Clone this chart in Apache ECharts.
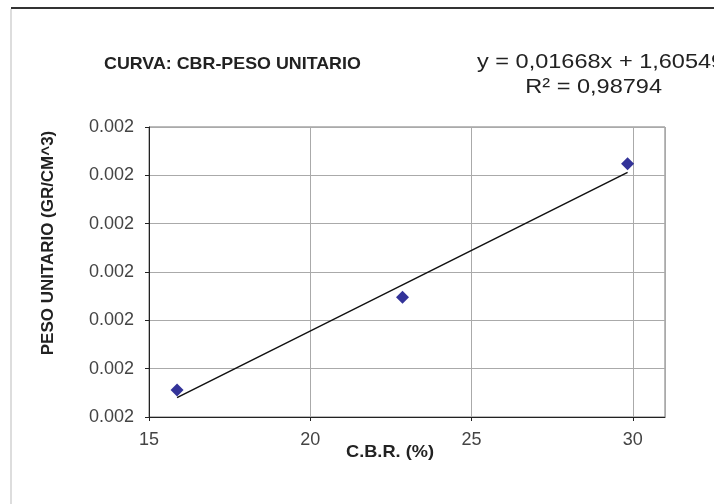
<!DOCTYPE html>
<html>
<head>
<meta charset="utf-8">
<script src="https://cdn.jsdelivr.net/npm/echarts@6/dist/echarts.min.js"></script>
<style>
html, body { margin: 0; padding: 0; background: #fff; }
#main { width: 714px; height: 504px; }
</style>
</head>
<body>
<div id="main"></div>
<script>
// ensayo CBR vs peso unitario
var cbr = [15.87, 22.86, 29.84];
var pesoUnitario = [1.878, 1.974, 2.112];
var trendX = [15.87, 29.84];
var trendY = [1.870, 2.103];
var yTickLabel = '0.002';
var titleText = 'CURVA: CBR-PESO UNITARIO';
var xName = 'C.B.R. (%)';
var yName = 'PESO UNITARIO (GR/CM^3)';
var eqText = 'y = 0,01668x + 1,60549';
var r2Text = 'R\u00b2 = 0,98794';

var chart = echarts.init(document.getElementById('main'));

var points = cbr.map(function (x, i) { return [x, pesoUnitario[i]]; });
var trend = trendX.map(function (x, i) { return [x, trendY[i]]; });

var font = 'Liberation Sans, Arial, sans-serif';

var option = {
    animation: false,
    backgroundColor: '#fff',
    grid: {
        left: 149,
        top: 127,
        right: 49,
        bottom: 87,
        show: true,
        borderColor: '#777',
        borderWidth: 1
    },
    graphic: [
        { type: 'line', shape: { x1: 11, y1: 8, x2: 714, y2: 8 }, style: { stroke: '#333', lineWidth: 2 } },
        { type: 'line', shape: { x1: 11, y1: 9, x2: 11, y2: 504 }, style: { stroke: '#ddd', lineWidth: 2 } },
        {
            type: 'text', x: 104, y: 64, scaleX: 1.05,
            style: { x: 0, y: 0, text: titleText, font: 'bold 17px ' + font, fill: '#222',
                     textAlign: 'left', textVerticalAlign: 'middle' }
        },
        {
            type: 'text', x: 477, y: 62, scaleX: 1.12,
            style: { x: 0, y: 0, text: eqText, font: '21px ' + font, fill: '#222',
                     textAlign: 'left', textVerticalAlign: 'middle' }
        },
        {
            type: 'text', x: 662, y: 87, scaleX: 1.12,
            style: { x: 0, y: 0, text: r2Text, font: '21px ' + font, fill: '#222',
                     textAlign: 'right', textVerticalAlign: 'middle' }
        },
        {
            type: 'text', x: 390, y: 452, scaleX: 1.07,
            style: { x: 0, y: 0, text: xName, font: 'bold 17px ' + font, fill: '#222',
                     textAlign: 'center', textVerticalAlign: 'middle' }
        },
        {
            type: 'text', x: 49, y: 243, rotation: Math.PI / 2, scaleX: 1.06,
            style: { x: 0, y: 0, text: yName, font: 'bold 16px ' + font, fill: '#222',
                     textAlign: 'center', textVerticalAlign: 'middle' }
        }
    ],
    xAxis: {
        type: 'value',
        min: 15,
        max: 31,
        interval: 5,
        axisLine: { show: true, lineStyle: { color: '#222', width: 1 } },
        axisTick: { show: true, length: 4, lineStyle: { color: '#222' } },
        axisLabel: {
            fontFamily: font, fontSize: 18, color: '#444', margin: 14,
            showMaxLabel: false
        },
        splitLine: { show: true, lineStyle: { color: '#aaa', width: 1 } }
    },
    yAxis: {
        type: 'value',
        min: 1.85,
        max: 2.15,
        interval: 0.05,
        axisLine: { show: true, lineStyle: { color: '#222', width: 1 } },
        axisTick: { show: true, length: 4, lineStyle: { color: '#222' } },
        axisLabel: {
            fontFamily: font, fontSize: 18, color: '#444', margin: 15,
            formatter: function () { return yTickLabel; }
        },
        splitLine: { show: true, lineStyle: { color: '#aaa', width: 1 } }
    },
    series: [
        {
            name: 'Tendencia',
            type: 'line',
            data: trend,
            symbol: 'none',
            lineStyle: { color: '#111', width: 1.5 },
            z: 2
        },
        {
            name: 'CBR-Peso unitario',
            type: 'scatter',
            data: points,
            symbol: 'diamond',
            symbolSize: 13,
            itemStyle: { color: '#000080' },
            z: 3
        }
    ]
};

chart.setOption(option);
</script>
</body>
</html>
